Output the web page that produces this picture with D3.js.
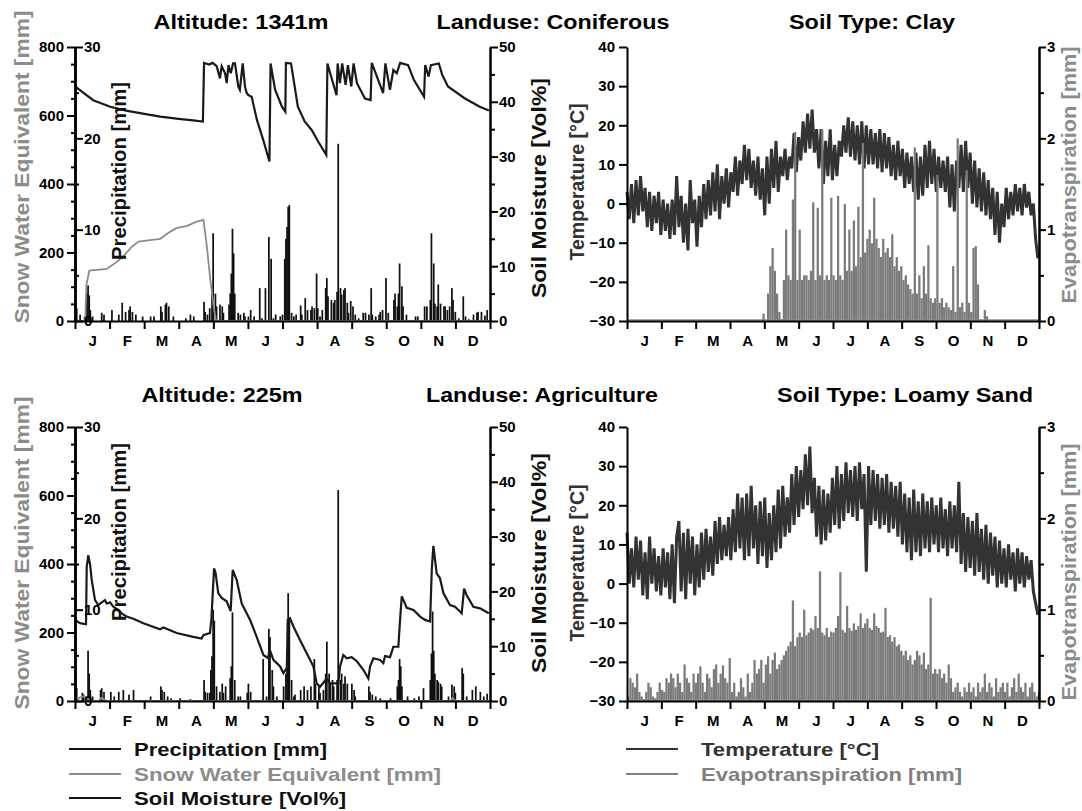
<!DOCTYPE html>
<html>
<head>
<meta charset="utf-8">
<script src="https://cdn.jsdelivr.net/npm/d3@7"></script>
<style>
  body { margin: 0; background: #fff; }
  text { font-family: "Liberation Sans", Arial, sans-serif; font-weight: bold; }
</style>
</head>
<body>
<svg id="chart" width="1082" height="811"></svg>
<script>
// ---- data (day of year, value) ----
var monthLetters = ["J", "F", "M", "A", "M", "J", "J", "A", "S", "O", "N", "D"];

// Altitude 1341m / Coniferous / Clay
var precipTop = [[1,1.4],[4,0.7],[8,0.5],[10,3.0],[11,3.9],[12,2.8],[13,1.2],[15,0.5],[23,0.9],[25,0.7],[32,1.2],[38,0.7],[41,2.0],[44,1.0],[47,1.2],[48,1.6],[50,1.0],[53,0.7],[59,0.5],[66,0.5],[69,0.5],[75,1.6],[76,1.0],[79,1.8],[80,2.0],[82,1.6],[86,0.5],[97,0.3],[101,0.7],[104,0.5],[113,2.1],[114,1.0],[116,0.7],[118,1.4],[120,3.0],[121,9.6],[123,3.0],[124,1.6],[127,1.8],[129,1.6],[130,0.9],[135,1.8],[136,3.0],[137,5.2],[138,10.1],[139,7.4],[140,3.0],[143,0.9],[145,0.7],[148,0.9],[149,0.5],[152,0.5],[154,1.2],[157,0.5],[162,3.6],[164,0.3],[167,3.6],[170,9.2],[172,6.8],[174,0.3],[176,0.7],[180,0.5],[182,0.7],[184,6.8],[185,9.0],[186,10.3],[187,12.5],[188,12.7],[190,0.9],[192,0.5],[194,0.7],[198,1.7],[199,0.7],[202,2.5],[204,1.2],[207,1.2],[208,1.6],[210,1.4],[212,5.2],[213,1.4],[215,0.5],[217,1.2],[220,3.6],[221,4.7],[222,2.7],[225,2.3],[227,2.0],[228,2.3],[230,3.2],[231,19.4],[233,3.6],[234,2.9],[236,3.4],[237,3.6],[239,2.0],[240,0.9],[242,2.2],[244,1.6],[246,0.7],[249,0.3],[253,0.9],[255,0.9],[258,0.7],[260,3.6],[261,0.7],[264,0.5],[267,0.7],[268,1.0],[270,1.2],[273,4.7],[275,0.9],[280,2.3],[281,3.0],[283,1.6],[284,3.0],[285,6.3],[287,3.8],[288,1.6],[291,0.7],[299,0.5],[301,0.5],[307,1.6],[309,1.6],[312,2.3],[313,9.6],[315,6.3],[316,1.9],[318,1.6],[319,4.0],[321,1.9],[324,1.6],[325,1.6],[327,1.2],[329,1.6],[331,3.6],[332,2.3],[334,1.0],[337,0.3],[341,2.7],[343,0.5],[346,0.2],[350,0.7],[353,0.9],[354,1.0],[357,1.0],[360,0.6],[362,1.2]];
var sweTop = [[0,0],[9,0],[10,105],[12.6,147],[28,152],[31,159],[34,166],[41,184],[45,198],[50,217],[56,232],[66,236],[75,240],[82,257],[89,271],[98,277],[107,290],[113,295],[116,217],[119,120],[122,42],[124,0],[364,0]];
var smTop = [[0,42.8],[16,40.3],[31,39.1],[45,38.4],[61,37.8],[75,37.3],[91,36.9],[104,36.6],[112.5,36.4],[113.5,47.1],[118,46.8],[121,47.1],[124.6,46.5],[127.5,44.3],[129,46.5],[132,45.2],[133.4,43.4],[135,46.7],[137,45.2],[139,47.0],[140.7,47.0],[143.6,42.8],[145,42.2],[147.5,47.0],[149.5,42.8],[151,41.6],[152.5,41.2],[155.4,40.9],[160,36.7],[165.6,33.0],[171,29.1],[172,47.0],[176,42.2],[182,39.1],[185,38.2],[185.5,47.1],[190,47.0],[196,39.1],[202,36.4],[208,34.9],[214,32.7],[221,30.3],[222,47.0],[230,41.2],[231,47.0],[233,43.4],[235,47.0],[238,43.1],[240,46.7],[243,42.8],[245,47.0],[248,43.4],[255,40.6],[260,40.3],[261,47.1],[271,41.6],[273,47.0],[277,42.2],[280,45.8],[283,45.2],[286,47.1],[293,46.7],[298,44.0],[307,40.9],[308,46.7],[311,44.6],[313,46.7],[320,47.0],[323,44.9],[328,42.8],[343,40.6],[356,39.1],[364,38.4]];
// temperature and evapotranspiration every second day (day 0, 2, 4 ... 364)
var tempClay = [3,-4,5,-5,6,-3,7,-2,4,-6, 3,-7,2,-5,3,-8,1,-7,0,-9, 1,-8,7,-6,2,-10,0,-12,6,-5, 1,-11,2,-6,5,-4,6,-3,8,-2,
  10,-4,7,0,9,-1,8,3,12,2, 11,5,15,6,14,4,11,2,12,1, 9,-3,12,0,14,4,16,3,12,7, 14,6,12,9,18,8,17,11,21,13,
  23,14,24,13,19,9,19,5,16,7, 19,6,15,7,16,12,20,13,22,12, 21,11,20,10,21,9,20,10,19,10, 18,9,19,8,18,9,17,7,15,6,
  16,7,14,4,13,5,12,3,13,1, 12,2,15,4,16,5,14,3,12,4, 11,3,12,-1,10,-2,11,4,15,3, 16,4,13,0,11,-1,9,-2,8,-3,
  6,-4,4,-8,3,-10,0,-6,4,-4, 3,-3,5,-2,4,-3,5,-1,3,-3, 0,-9,-14];
var etClay = [0,0,0,0,0,0,0,0,0,0, 0,0,0,0,0,0,0,0,0,0, 0,0,0,0,0,0,0,0,0,0, 0,0,0,0,0,0,0,0,0,0, 0,0,0,0,0,0,0,0,0,0, 0,0,0,0,0,0,0,0,0,0,
  0.08,0,0.3,0.6,0.8,0.55,0.3,0.1,0.02,0.45, 1.0,0.5,0.45,1.33,2.07,0.45,1.0,0.45,0.5,0.5, 0.45,0.55,1.3,0.45,1.24,0.5,2.1,0.45,0.5,0.45,
  1.35,0.5,0.45,1.37,0.5,0.45,1.28,0.55,1.0,0.55, 1.1,0.6,1.25,0.7,1.95,0.75,0.9,1.0,0.85,1.35, 0.9,0.8,0.7,0.9,0.75,0.8,0.7,0.95,0.6,0.7,
  0.55,0.6,0.45,0.5,0.4,0.35,0.3,1.9,0.3,0.5, 0.25,0.6,0.3,0.83,0.25,0.2,0.25,1.6,0.2,0.25, 0.15,0.2,0.15,0.12,0.6,0.1,2.0,0.15,0.2,0.1,
  1.65,0.2,0.1,0.8,0.82,0.4,0.02,0,0.12,0.05, 0,0,0,0,0,0,0,0,0,0, 0,0,0,0,0,0,0,0,0,0, 0,0,0];

// Altitude 225m / Agriculture / Loamy Sand
var precipBottom = [[1,1.4],[6,0.9],[7,0.7],[11,5.5],[12,3.0],[13,1.2],[15,0.5],[22,1.2],[23,1.4],[25,1.0],[31,1.0],[34,0.5],[38,1.0],[42,1.2],[47,0.7],[51,1.2],[66,0.5],[75,1.6],[76,1.2],[78,1.0],[81,0.5],[84,0.3],[92,0.3],[101,0.2],[113,2.3],[114,1.0],[116,0.9],[118,0.9],[119,3.4],[120,4.9],[121,10.0],[122,8.8],[124,1.6],[127,1.0],[129,1.9],[130,0.9],[132,1.6],[136,2.5],[137,3.8],[138,9.7],[140,2.3],[143,0.5],[145,0.5],[151,0.9],[152,1.9],[154,1.0],[165,4.6],[168,0.5],[170,7.9],[171,7.0],[173,3.4],[174,1.6],[177,0.5],[183,1.6],[185,3.0],[186,5.5],[187,11.8],[188,8.8],[190,2.3],[192,0.5],[193,0.7],[198,1.2],[201,1.6],[204,1.2],[207,1.6],[210,4.6],[211,1.9],[214,1.6],[215,0.9],[218,1.2],[220,3.0],[221,6.5],[223,3.0],[224,1.9],[226,2.3],[227,1.6],[230,2.3],[231,23.1],[233,2.3],[234,3.0],[236,1.9],[237,2.7],[239,1.9],[243,1.9],[245,1.2],[246,0.5],[258,1.6],[259,1.0],[261,0.7],[264,0.5],[268,0.3],[277,0.3],[283,1.6],[284,2.3],[285,4.6],[286,3.8],[287,1.6],[292,0.5],[298,0.3],[302,0.5],[306,1.4],[312,2.3],[313,5.2],[314,9.8],[315,5.5],[316,3.0],[318,2.3],[319,2.1],[321,1.9],[322,1.6],[328,0.5],[331,1.8],[333,1.6],[334,0.9],[340,3.6],[341,3.0],[344,0.5],[349,1.2],[352,1.6],[356,1.0],[359,0.5],[362,0.8]];
var sweBottom = [[0,0],[2,0],[4,10],[8,14],[12,6],[14,0],[21,0],[23,9],[26,4],[28,0],[330,0],[332,8],[335,0],[364,0]];
var smBottom = [[0,14.8],[4.4,14.2],[9.7,14.0],[10.3,24.5],[11.7,26.6],[13.2,25.0],[14.7,22.1],[17.6,18.4],[20.5,17.5],[23.5,18.0],[26.4,18.4],[27.9,17.8],[30.8,18.0],[33.7,17.2],[38.1,16.6],[41,16.0],[45.4,15.4],[51.3,15.0],[60.1,14.2],[74.8,13.1],[77.7,13.4],[89.4,12.4],[104,11.7],[111.4,11.4],[112.9,12.0],[118.7,12.4],[120,15],[121,19.1],[122.3,24.2],[123.7,23.3],[126,19.7],[129,18.8],[133.4,18.2],[136.9,16.4],[138.7,23.9],[142.2,22.1],[146.6,17.8],[154,14.8],[159.8,11.7],[165.7,8.4],[170,7.8],[171,9.5],[174.5,7.5],[180.4,6.3],[183.3,5.1],[186.3,6.0],[187.1,14.8],[189.1,15.1],[192.1,13.6],[198,11.1],[203.8,8.7],[209.7,6.3],[212.6,3.2],[215.5,2.6],[221.4,4.1],[224.3,3.2],[228.7,3.2],[231.6,3.2],[233.1,6.3],[236,8.4],[239,7.8],[243.3,8.0],[247.7,7.3],[253.6,5.7],[258,4.1],[259.5,6.3],[262.4,7.8],[268.3,7.5],[271.2,6.9],[272.7,8.2],[277.1,8.0],[280,9.9],[284.4,9.9],[285.9,14.8],[287.4,19.1],[291.8,17.0],[297.7,16.6],[303.5,15.4],[307.9,14.8],[312.3,14.5],[313.8,24.0],[315.2,28.3],[316.7,25.7],[318.1,23.3],[321,22.4],[324,19.7],[329.8,17.5],[334.2,17.2],[337.2,16.6],[340.1,16.0],[342.2,20.5],[344.5,19.3],[350.4,17.2],[356.2,16.9],[364,16.0]];
var tempLoamy = [13,0,9,-1,12,1,11,-3,8,-4, 12,0,9,-2,7,-3,9,-1,8,-4, 10,-5,12,16,-2,13,-4,14,0,12, -3,10,-1,13,1,14,3,12,2,16,
  5,17,6,15,7,17,6,19,8,23, 9,22,6,23,7,25,9,20,5,21, 7,22,4,18,6,20,8,24,9,25, 12,22,13,28,15,30,17,29,19,33,
  20,35,18,27,12,25,10,24,11,23, 13,27,15,30,14,28,16,31,18,29, 17,30,16,31,19,28,3,30,15,29, 16,28,14,27,15,28,13,26,14,25,
  12,26,10,23,8,22,6,24,8,21, 7,23,9,21,8,22,10,20,8,22, 9,19,7,21,9,20,8,26,5,18, 3,17,4,16,2,18,3,14,1,15,
  0,13,2,12,-1,11,0,9,-1,10, 1,8,-2,9,0,8,-1,7,1,6, -2,-5,-8];
var etLoamy = [0.05,0.25,0.2,0.15,0.3,0.1,0.05,0.02,0.1,0.2,0.15,0.05,0.03,0.1,0.2,0.12,
  0.1,0.25,0.2,0.3,0.25,0.15,0.3,0.2,0.1,0.4,0.25,0.2,0.1,0.3,
  0.2,0.3,0.38,0.2,0.1,0.3,0.25,0.15,0.35,0.4,0.2,0.3,0.39,0.25,0.2,
  0.47,0.1,0.2,0.05,0.1,0.25,0.15,0.05,0.3,0.1,0.2,0.45,0.3,0.35,0.45,
  0.2,0.4,0.49,0.3,0.45,0.53,0.35,0.4,0.45,0.5,0.55,0.6,0.65,1.1,0.6,0.7,
  0.75,0.7,1.0,0.72,0.75,0.8,0.78,0.93,0.8,1.42,0.75,0.72,0.8,0.7,0.76,
  0.75,0.8,0.93,1.41,0.78,0.75,1.04,0.8,0.77,0.85,0.78,0.82,0.96,0.8,0.85,
  0.9,0.8,0.78,0.96,0.82,0.8,0.75,0.76,1.02,0.7,0.72,0.65,0.7,0.6,0.62,0.55,
  0.5,0.55,0.45,0.5,0.4,0.45,0.55,0.5,0.4,0.53,0.35,0.4,1.13,0.3,0.35,
  0.3,0.35,0.25,0.3,0.2,0.4,0.25,0.1,0.15,0.2,0.1,0.05,0.15,0.1,0.2,
  0.1,0.15,0.05,0.2,0.1,0.15,0.3,0.1,0.2,0.15,0.05,0.25,0.1,0.15,0.2,
  0.1,0.2,0.05,0.15,0.25,0.1,0.3,0.15,0.1,0.2,0.05,0.15,0.2,0.1,0.05,0.1];

// ---- layout ----
var svg = d3.select("#chart");
var leftX = [75, 490], rightX = [627, 1039];
var rows = [
  {y: [47, 321], titleY: 28.5,
   titles: [["Altitude: 1341m", 241, 175], ["Landuse: Coniferous", 553, 233], ["Soil Type: Clay", 872, 166]],
   precip: precipTop, swe: sweTop, sm: smTop, temp: tempClay, et: etClay,
   lab: {swe: 167, pr: 171, sm: 188, t: 182, et: 175}},
  {y: [427, 701], titleY: 402,
   titles: [["Altitude: 225m", 222, 161], ["Landuse: Agriculture", 542, 232], ["Soil Type: Loamy Sand", 905, 256]],
   precip: precipBottom, swe: sweBottom, sm: smBottom, temp: tempLoamy, et: etLoamy,
   lab: {swe: 553, pr: 532, sm: 563, t: 563, et: 572}}
];
var monthTicks = d3.range(13).map(i => i * 365 / 12);
var monthMids = d3.range(12).map(i => (i + 0.5) * 365 / 12);

function styleAxis(g) {
  g.attr("font-family", null).attr("font-size", null);
  g.select(".domain").attr("stroke", "#000").attr("stroke-width", 2);
  g.selectAll(".tick line").attr("stroke", "#000").attr("stroke-width", 2);
  g.selectAll(".tick text").attr("font-size", 15).attr("fill", "#000");
}

function monthAxis(x, yb) {
  svg.append("g").attr("transform", `translate(0,${yb})`)
    .call(d3.axisBottom(x).tickValues(monthTicks).tickSize(8).tickSizeOuter(0).tickFormat(""))
    .call(styleAxis);
  var lab = svg.append("g").attr("transform", `translate(0,${yb})`)
    .call(d3.axisBottom(x).tickValues(monthMids).tickSize(0).tickPadding(14).tickFormat((d, i) => monthLetters[i]))
    .call(styleAxis);
  lab.select(".domain").remove();
}

function vLabel(txt, x, y, len, color) {
  svg.append("text")
    .attr("transform", `translate(${x},${y}) rotate(-90)`)
    .attr("text-anchor", "middle").attr("font-size", 20).attr("fill", color)
    .attr("textLength", len).attr("lengthAdjust", "spacingAndGlyphs")
    .text(txt);
}

rows.forEach(function(r) {
  var y0 = r.y[0], y1 = r.y[1];

  // titles
  r.titles.forEach(function(t) {
    svg.append("text").attr("x", t[1]).attr("y", r.titleY).attr("text-anchor", "middle")
      .attr("font-size", 21).attr("textLength", t[2]).attr("lengthAdjust", "spacingAndGlyphs")
      .text(t[0]);
  });

  // ---- left panel: precipitation, snow, soil moisture ----
  var x = d3.scaleLinear().domain([0, 365]).range(leftX);
  var ySwe = d3.scaleLinear().domain([0, 800]).range([y1, y0]);
  var yPr = d3.scaleLinear().domain([0, 30]).range([y1, y0]);
  var ySm = d3.scaleLinear().domain([0, 50]).range([y1, y0]);
  var bw = x(1) - x(0);

  svg.append("g").selectAll("rect").data(r.precip).enter().append("rect")
    .attr("x", d => x(d[0]) - 0.3).attr("width", bw + 0.6)
    .attr("y", d => yPr(d[1])).attr("height", d => y1 - yPr(d[1]))
    .attr("fill", "#111");
  svg.append("path").datum(r.swe)
    .attr("d", d3.line().x(d => x(d[0])).y(d => ySwe(d[1])))
    .attr("fill", "none").attr("stroke", "#8c8c8c").attr("stroke-width", 1.8);
  svg.append("path").datum(r.sm)
    .attr("d", d3.line().x(d => x(d[0])).y(d => ySm(d[1])))
    .attr("fill", "none").attr("stroke", "#1a1a1a").attr("stroke-width", 2.2);

  svg.append("g").attr("transform", `translate(${leftX[0]},0)`)
    .call(d3.axisLeft(ySwe).tickValues(d3.range(50, 800, 50).filter(v => v % 200)).tickSize(4).tickSizeOuter(0).tickFormat(""))
    .call(styleAxis);
  svg.append("g").attr("transform", `translate(${leftX[0]},0)`)
    .call(d3.axisLeft(ySwe).tickValues([0, 200, 400, 600, 800]).tickSize(8).tickPadding(3).tickSizeOuter(0))
    .call(styleAxis);
  svg.append("g").attr("transform", `translate(${leftX[0]},0)`)
    .call(d3.axisRight(yPr).tickValues([5, 15, 25]).tickSize(4).tickSizeOuter(0).tickFormat(""))
    .call(styleAxis);
  svg.append("g").attr("transform", `translate(${leftX[0]},0)`)
    .call(d3.axisRight(yPr).tickValues([0, 10, 20, 30]).tickSize(8).tickPadding(1).tickSizeOuter(0))
    .call(styleAxis);
  svg.append("g").attr("transform", `translate(${leftX[1]},0)`)
    .call(d3.axisRight(ySm).tickValues([5, 15, 25, 35, 45]).tickSize(5).tickSizeOuter(0).tickFormat(""))
    .call(styleAxis);
  svg.append("g").attr("transform", `translate(${leftX[1]},0)`)
    .call(d3.axisRight(ySm).tickValues([0, 10, 20, 30, 40, 50]).tickSize(8).tickPadding(1).tickSizeOuter(0))
    .call(styleAxis);
  monthAxis(x, y1);

  vLabel("Snow Water Equivalent [mm]", 29, r.lab.swe, 313, "#8c8c8c");
  vLabel("Precipitation [mm]", 126, r.lab.pr, 178, "#111");
  vLabel("Soil Moisture [Vol%]", 546, r.lab.sm, 220, "#111");

  // ---- right panel: temperature and evapotranspiration ----
  var xr = d3.scaleLinear().domain([0, 365]).range(rightX);
  var yT = d3.scaleLinear().domain([-30, 40]).range([y1, y0]);
  var yEt = d3.scaleLinear().domain([0, 3]).range([y1, y0]);

  svg.append("path").datum(r.temp)
    .attr("d", d3.line().x((d, i) => xr(i * 2)).y(d => yT(d)))
    .attr("fill", "none").attr("stroke", "#333").attr("stroke-width", 3).attr("stroke-linejoin", "bevel");
  var ew = xr(2) - xr(0);
  svg.append("g").selectAll("rect").data(r.et).enter().append("rect")
    .attr("x", (d, i) => xr(i * 2)).attr("width", ew)
    .attr("y", d => yEt(d)).attr("height", d => y1 - yEt(d))
    .attr("fill", "#7b7b7b");
  // zero line of evapotranspiration
  svg.append("line").attr("x1", rightX[0]).attr("x2", rightX[1]).attr("y1", y1 - 1).attr("y2", y1 - 1)
    .attr("stroke", "#8c8c8c").attr("stroke-width", 1.5);

  svg.append("g").attr("transform", `translate(${rightX[0]},0)`)
    .call(d3.axisLeft(yT).tickValues(d3.range(-30, 41, 10)).tickSize(8).tickPadding(4).tickSizeOuter(0))
    .call(styleAxis);
  svg.append("g").attr("transform", `translate(${rightX[1]},0)`)
    .call(d3.axisRight(yEt).tickValues([0.5, 1.5, 2.5]).tickSize(5).tickSizeOuter(0).tickFormat(""))
    .call(styleAxis);
  svg.append("g").attr("transform", `translate(${rightX[1]},0)`)
    .call(d3.axisRight(yEt).tickValues([0, 1, 2, 3]).tickSize(7).tickPadding(1).tickSizeOuter(0).tickFormat(d3.format("d")))
    .call(styleAxis);
  monthAxis(xr, y1);

  vLabel("Temperature [°C]", 584, r.lab.t, 157, "#333");
  vLabel("Evapotranspiration [mm]", 1076, r.lab.et, 257, "#8c8c8c");
});

// ---- legends ----
var legLeft = [["Precipitation [mm]", "#111", 193], ["Snow Water Equivalent [mm]", "#8c8c8c", 307], ["Soil Moisture [Vol%]", "#111", 212]];
var legRight = [["Temperature [°C]", "#333", 178], ["Evapotranspiration [mm]", "#808080", 261]];
var legY = [749, 774, 798];
function legend(items, lx, tx) {
  items.forEach(function(it, i) {
    svg.append("line").attr("x1", lx).attr("x2", lx + 52).attr("y1", legY[i]).attr("y2", legY[i])
      .attr("stroke", it[1]).attr("stroke-width", 2);
    svg.append("text").attr("x", tx).attr("y", legY[i] + 7).attr("font-size", 19).attr("fill", it[1])
      .attr("textLength", it[2]).attr("lengthAdjust", "spacingAndGlyphs").text(it[0]);
  });
}
legend(legLeft, 69, 134);
legend(legRight, 626, 701);
</script>
</body>
</html>
